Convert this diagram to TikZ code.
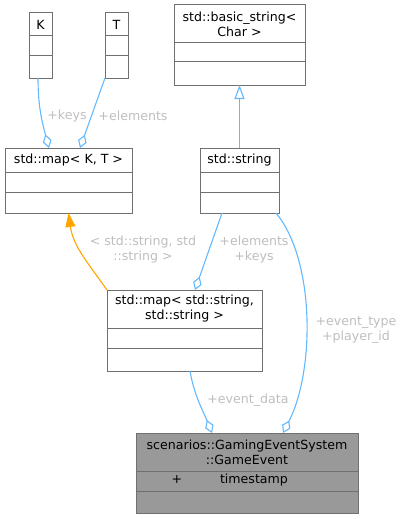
\documentclass[tikz,border=0pt]{standalone}
\usepackage{fontspec}
\setmainfont{DejaVu Sans}
\usetikzlibrary{positioning, arrows.meta}
\definecolor{boxgray}{HTML}{707070}
\definecolor{eventgray}{HTML}{999999}
\definecolor{edgeblue}{HTML}{63B8FF}
\definecolor{tmplorange}{HTML}{FFA500}
\definecolor{labelgray}{HTML}{BEBEBE}
\tikzset{
  classtitle/.style={draw=boxgray, fill=white, line width=1pt, inner sep=0pt, outer sep=0pt, align=center, font=\fontsize{12.6}{15}\selectfont},
  compart/.style={draw=boxgray, fill=white, line width=1pt, inner sep=0pt, outer sep=0pt},
  elabel/.style={text=labelgray, align=center, inner sep=0pt, font=\fontsize{12.6}{15}\selectfont},
  assoc/.style={draw=edgeblue, line width=1.1pt, -{Diamond[open, length=14pt, width=9pt]}},
  inherit/.style={draw=edgeblue, line width=1.1pt, -{Triangle[open, length=14pt, width=10pt]}},
  tmpl/.style={draw=tmplorange, line width=1.1pt, -{Triangle[length=14pt, width=10pt]}}
}
\begin{document}
\begin{tikzpicture}[x=1pt, y=-1pt]
	\useasboundingbox (0,0) rectangle (405,519);

		% K
		\node [classtitle, minimum width=23pt, minimum height=23pt] (K) at (40.5, 24.5) {K};
		\node [compart, minimum width=23pt, minimum height=20pt, below=0pt of K] (K-a) {};
		\node [compart, minimum width=23pt, minimum height=22pt, below=0pt of K-a] (K-o) {};

		% T
		\node [classtitle, minimum width=23pt, minimum height=23pt] (T) at (116.5, 24.5) {T};
		\node [compart, minimum width=23pt, minimum height=20pt, below=0pt of T] (T-a) {};
		\node [compart, minimum width=23pt, minimum height=22pt, below=0pt of T-a] (T-o) {};

		% std::basic_string
		\node [classtitle, minimum width=131pt, minimum height=38pt] (bstr) at (239.5, 24) {std::basic\_string<\\Char >};
		\node [compart, minimum width=131pt, minimum height=19pt, below=0pt of bstr] (bstr-a) {};
		\node [compart, minimum width=131pt, minimum height=23pt, below=0pt of bstr-a] (bstr-o) {};

		% std::map< K, T >
		\node [classtitle, minimum width=127pt, minimum height=24pt] (mapKT) at (68.5, 160) {std::map< K, T >};
		\node [compart, minimum width=127pt, minimum height=20pt, below=0pt of mapKT] (mapKT-a) {};
		\node [compart, minimum width=127pt, minimum height=21pt, below=0pt of mapKT-a] (mapKT-o) {};

		% std::string
		\node [classtitle, minimum width=79pt, minimum height=24pt] (str) at (239.5, 160) {std::string};
		\node [compart, minimum width=79pt, minimum height=20pt, below=0pt of str] (str-a) {};
		\node [compart, minimum width=79pt, minimum height=21pt, below=0pt of str-a] (str-o) {};

		% std::map< std::string, std::string >
		\node [classtitle, minimum width=155pt, minimum height=38pt] (mapSS) at (184.5, 309) {std::map< std::string,\\std::string >};
		\node [compart, minimum width=155pt, minimum height=20pt, below=0pt of mapSS] (mapSS-a) {};
		\node [compart, minimum width=155pt, minimum height=23pt, below=0pt of mapSS-a] (mapSS-o) {};

		% GameEvent
		\node [classtitle, fill=eventgray, minimum width=222pt, minimum height=38pt] (event) at (247, 452) {scenarios::GamingEventSystem\\::GameEvent};
		\node [compart, fill=eventgray, minimum width=222pt, minimum height=20pt, below=0pt of event] (event-a) {};
		\node [compart, fill=eventgray, minimum width=222pt, minimum height=22pt, below=0pt of event-a] (event-o) {};
		\node [classtitle, draw=none, fill=none] (event-plus) at (177, 480) {+};
		\node [classtitle, draw=none, fill=none] (event-ts) at (254, 480) {timestamp};

		% Edges
		\draw [assoc] ([xshift=-2.5pt]K-o.south) to[out=-90, in=105] ([xshift=-19.5pt]mapKT.north);
		\draw [assoc] ([xshift=-11.5pt]T-o.south) -- ([xshift=11.5pt]mapKT.north);
		\draw [inherit] (str.north) -- (bstr-o.south);
		\draw [assoc] ([xshift=-17.5pt]str-o.south) -- ([xshift=10.5pt]mapSS.north);
		\draw [tmpl] (mapSS.north west) to[out=125, in=-82] (mapKT-o.south);
		\draw [assoc] ([xshift=-3pt]str-o.south east) .. controls (315,260) and (315,370) .. ([xshift=36pt]event.north);
		\draw [assoc] ([xshift=5.5pt]mapSS-o.south) to[out=-80, in=112] ([xshift=-35pt]event.north);

		% Labels
		\node [elabel] (lkeys) at (67, 116) {+keys};
		\node [elabel] (lelem) at (133, 116) {+elements};
		\node [elabel] (ltmpl) at (143, 250) {< std::string, std\\::string >};
		\node [elabel] (lelemkeys) at (254, 250) {+elements\\+keys};
		\node [elabel] (ltype) at (356, 330) {+event\_type\\+player\_id};
		\node [elabel] (ldata) at (248, 400) {+event\_data};

	\end{tikzpicture}
\end{document}
